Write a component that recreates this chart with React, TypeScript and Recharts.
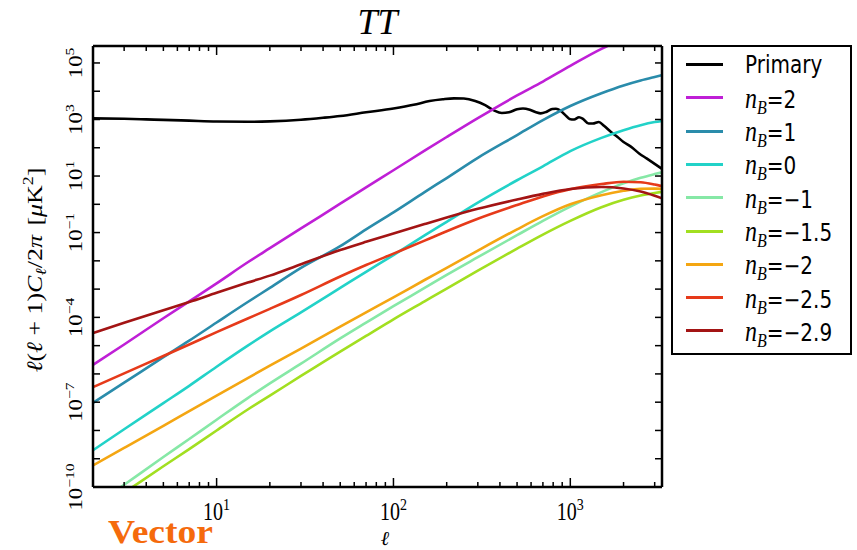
import React from 'react';
import { LineChart, Line, XAxis, YAxis, Legend } from 'recharts';

// multipole values shared by the magnetic-field curves
const ell = [2, 3, 5, 7, 10, 15, 20, 30, 50, 70, 100, 150, 200, 300, 500, 700, 1000, 1500, 2000, 2500, 3000, 3300];

const nB2 = [2.1e-6, 1.1e-5, 9.3e-5, 3.7e-4, 1.6e-3, 8.9e-3, 2.8e-2, 0.14, 1.05, 4.0, 16, 79, 240, 1120, 7100, 22000, 79000, 316000, 710000, 1.1e6, 1.6e6, 1.9e6];
const nB1 = [9.5e-8, 4.9e-7, 3.9e-6, 1.5e-5, 6.6e-5, 3.5e-4, 1.1e-3, 5.6e-3, 3.3e-2, 0.13, 0.52, 2.7, 8.5, 44, 280, 950, 3000, 8500, 16000, 24000, 32000, 37000];
const nB0 = [2.0e-9, 1.1e-8, 9.3e-8, 3.8e-7, 1.8e-6, 1.0e-5, 3.2e-5, 1.5e-4, 1.1e-3, 4.1e-3, 1.6e-2, 7.9e-2, 0.24, 1.15, 7.1, 22, 76, 224, 420, 630, 810, 890];
const nBm1 = [2.0e-11, 1.2e-10, 1.15e-9, 5.0e-9, 2.4e-8, 1.4e-7, 4.6e-7, 2.3e-6, 1.8e-5, 6.5e-5, 2.5e-4, 1.1e-3, 3.2e-3, 1.35e-2, 8.1e-2, 0.26, 0.83, 2.7, 5.5, 8.7, 11.7, 13.5];
const nBm15 = [1.15e-11, 6.3e-11, 5.4e-10, 2.2e-9, 1.0e-8, 5.5e-8, 1.7e-7, 8.5e-7, 6.2e-6, 2.2e-5, 8.5e-5, 3.7e-4, 1.05e-3, 4.5e-3, 2.7e-2, 8.5e-2, 0.26, 0.79, 1.45, 2.04, 2.5, 2.75];
const nBm2 = [5.8e-10, 2.4e-9, 1.45e-8, 4.8e-8, 1.7e-7, 7.1e-7, 1.95e-6, 7.9e-6, 4.7e-5, 1.5e-4, 5.1e-4, 2.1e-3, 5.6e-3, 2.3e-2, 0.13, 0.38, 1.0, 2.1, 3.0, 3.55, 3.6, 3.5];
const nBm25 = [3.4e-7, 1.05e-6, 4.3e-6, 1.1e-5, 3.0e-5, 9.1e-5, 2.0e-4, 6.2e-4, 2.8e-3, 7.1e-3, 1.8e-2, 5.2e-2, 0.112, 0.31, 0.95, 1.9, 3.4, 5.2, 6.3, 6.0, 5.0, 4.4];
const nBm29 = [2.8e-5, 6.5e-5, 1.8e-4, 3.5e-4, 7.4e-4, 1.7e-3, 3.0e-3, 7.6e-3, 2.4e-2, 4.7e-2, 9.3e-2, 0.20, 0.34, 0.69, 1.48, 2.34, 3.47, 4.07, 3.63, 2.82, 2.0, 1.62];

// primary CMB TT spectrum
const primaryEll = [2, 3, 4, 5, 7, 10, 15, 20, 30, 40, 50, 70, 100, 130, 160, 190, 220, 250, 290, 330, 370, 410, 450, 500, 540, 590, 640, 680, 730, 790, 830, 880, 940, 990, 1050, 1120, 1180, 1270, 1340, 1450, 1550, 1700, 1850, 2000, 2200, 2450, 2700, 3000, 3300];
const primaryVal = [1100, 1060, 1010, 970, 910, 850, 830, 860, 980, 1150, 1330, 1800, 2450, 3300, 4500, 5200, 5600, 5500, 4500, 3200, 2100, 1700, 1800, 2300, 2450, 2200, 1800, 1650, 1850, 2350, 2400, 2050, 1400, 1050, 1000, 1200, 1050, 720, 720, 820, 600, 360, 240, 160, 110, 63, 42, 27, 18];

const seriesNames = ['Primary', '2', '1', '0', '−1', '−1.5', '−2', '−2.5', '−2.9'];
const seriesColors = ['#000000', '#bf1fd6', '#2a8cab', '#22d2c8', '#86e8a6', '#a2df20', '#f4a612', '#e63a1a', '#a31414'];

const xTicks = [2, 3, 4, 5, 6, 7, 8, 9, 10, 20, 30, 40, 50, 60, 70, 80, 90, 100, 200, 300, 400, 500, 600, 700, 800, 900, 1000, 2000, 3000];
const xMajor = [10, 100, 1000];
const xMajorExp = ['1', '2', '3'];
const yTicks = [1e-10, 1e-9, 1e-8, 1e-7, 1e-6, 1e-5, 1e-4, 1e-3, 1e-2, 1e-1, 1, 10, 100, 1000, 1e4, 1e5];
const yLabelExps = [5, 3, 1, -1, -4, -7, -10];

const SERIF = '"Liberation Serif", "DejaVu Serif", serif';
const SANS = '"DejaVu Sans", "Liberation Sans", sans-serif';

const zip = (xs: number[], vs: number[]) => xs.map((l, i) => ({ l, v: vs[i] }));

const magnetic = [nB2, nB1, nB0, nBm1, nBm15, nBm2, nBm25, nBm29];
const seriesData = [zip(primaryEll, primaryVal), ...magnetic.map((vs) => zip(ell, vs))];

const fmtExp = (e: number) => (e < 0 ? '−' + String(-e) : String(e));

function BottomTick(props: any) {
  const { x, y, payload } = props;
  const idx = xMajor.indexOf(payload.value);
  const major = idx >= 0;
  return (
    <g>
      <line x1={x} x2={x} y1={y} y2={y - (major ? 9 : 5)} stroke="#000" strokeWidth={1.5} />
      {major && (
        <g transform={`translate(${x},${y + 33}) scale(1,1.25)`}>
          <text x={0} y={0} textAnchor="middle" fontFamily={SERIF} fontSize={20} fill="#000">
            10<tspan dy={-8} fontSize={14}>{xMajorExp[idx]}</tspan>
          </text>
        </g>
      )}
    </g>
  );
}

function TopTick(props: any) {
  const { x, y, payload } = props;
  const major = xMajor.indexOf(payload.value) >= 0;
  return <line x1={x} x2={x} y1={y} y2={y + (major ? 9 : 5)} stroke="#000" strokeWidth={1.5} />;
}

function LeftTick(props: any) {
  const { x, y, payload } = props;
  const e = Math.round(Math.log10(payload.value));
  const show = yLabelExps.indexOf(e) >= 0;
  return (
    <g>
      <line x1={x} x2={x + 7} y1={y} y2={y} stroke="#000" strokeWidth={1.5} />
      {show && (
        <g transform={`translate(${x - 11},${y}) rotate(-90) scale(1.2,1)`}>
          <text x={0} y={0} textAnchor="middle" fontFamily={SERIF} fontSize={19} fill="#000">
            10<tspan dy={-8} fontSize={13}>{fmtExp(e)}</tspan>
          </text>
        </g>
      )}
    </g>
  );
}

function RightTick(props: any) {
  const { x, y } = props;
  return <line x1={x} x2={x - 7} y1={y} y2={y} stroke="#000" strokeWidth={1.5} />;
}

function LegendLabel({ name }: { name: string }) {
  if (name === 'Primary') {
    return <span style={{ fontFamily: SANS, fontSize: 20 }}>Primary</span>;
  }
  return (
    <span>
      <span style={{ fontFamily: SERIF, fontStyle: 'italic', fontSize: 24 }}>n</span>
      <span style={{ fontFamily: SERIF, fontStyle: 'italic', fontSize: 16, position: 'relative', top: 5 }}>B</span>
      <span style={{ fontFamily: SANS, fontSize: 20 }}>={name}</span>
    </span>
  );
}

const renderLegend = () => (
  <div
    style={{
      width: 181,
      height: 310,
      boxSizing: 'border-box',
      border: '2.5px solid #000',
      background: '#fff',
      position: 'relative',
    }}
  >
    {seriesNames.map((name, i) => (
      <div key={name} style={{ position: 'absolute', left: 0, top: 17.5 + i * 33.3 - 15, height: 30, width: 176 }}>
        <div style={{ position: 'absolute', left: 13, top: 13.5, width: 37, height: 3, background: seriesColors[i] }} />
        <div
          style={{
            position: 'absolute',
            left: 72,
            top: 0,
            height: 30,
            lineHeight: '30px',
            whiteSpace: 'nowrap',
            color: '#000',
            transform: 'scaleY(1.2)',
            transformOrigin: 'left center',
          }}
        >
          <LegendLabel name={name} />
        </div>
      </div>
    ))}
  </div>
);

export default function App() {
  return (
    <div style={{ position: 'absolute', left: 0, top: 0, width: 857, height: 550, background: '#fff' }}>
      <LineChart width={857} height={550} margin={{ top: 41, right: 190, bottom: 23, left: 33 }}>
        <XAxis
          dataKey="l"
          type="number"
          scale="log"
          domain={[2, 3300]}
          allowDataOverflow
          ticks={xTicks}
          interval={0}
          height={40}
          tickSize={0}
          tickMargin={0}
          tickLine={false}
          tick={<BottomTick />}
          axisLine={{ stroke: '#000', strokeWidth: 2.5 }}
        />
        <XAxis
          xAxisId="top"
          orientation="top"
          dataKey="l"
          type="number"
          scale="log"
          domain={[2, 3300]}
          allowDataOverflow
          ticks={xTicks}
          interval={0}
          height={5}
          tickSize={0}
          tickMargin={0}
          tickLine={false}
          tick={<TopTick />}
          axisLine={{ stroke: '#000', strokeWidth: 2.5 }}
        />
        <YAxis
          type="number"
          scale="log"
          domain={[1e-10, 3.98e5]}
          allowDataOverflow
          ticks={yTicks}
          interval={0}
          width={60}
          tickSize={0}
          tickMargin={0}
          tickLine={false}
          tick={<LeftTick />}
          axisLine={{ stroke: '#000', strokeWidth: 2.5 }}
        />
        <YAxis
          yAxisId="right"
          orientation="right"
          type="number"
          scale="log"
          domain={[1e-10, 3.98e5]}
          allowDataOverflow
          ticks={yTicks}
          interval={0}
          width={5}
          tickSize={0}
          tickMargin={0}
          tickLine={false}
          tick={<RightTick />}
          axisLine={{ stroke: '#000', strokeWidth: 2.5 }}
        />
        {seriesData.map((d, i) => (
          <Line
            key={seriesNames[i]}
            data={d}
            dataKey="v"
            name={seriesNames[i]}
            type="monotone"
            stroke={seriesColors[i]}
            strokeWidth={2.6}
            dot={false}
            activeDot={false}
            isAnimationActive={false}
          />
        ))}
        <Line
          xAxisId="top"
          yAxisId="right"
          data={seriesData[0]}
          dataKey="v"
          name="mirror"
          stroke="none"
          dot={false}
          activeDot={false}
          legendType="none"
          isAnimationActive={false}
        />
        <Legend
          layout="vertical"
          align="center"
          verticalAlign="middle"
          content={renderLegend}
          wrapperStyle={{ left: 671, top: 45, width: 181, height: 310 }}
        />
      </LineChart>
      <svg
        width={857}
        height={550}
        style={{ position: 'absolute', left: 0, top: 0, pointerEvents: 'none' }}
      >
        <text x={377.5} y={34} textAnchor="middle" fontFamily={SERIF} fontStyle="italic" fontSize={36} fill="#000">
          TT
        </text>
        <g transform="translate(42,270) rotate(-90) scale(1.18,1)">
          <text x={0} y={0} textAnchor="middle" fontFamily={SERIF} fontSize={22} fill="#000">
            <tspan fontStyle="italic">ℓ</tspan>(<tspan fontStyle="italic">ℓ</tspan> + 1)<tspan fontStyle="italic">C</tspan>
            <tspan fontStyle="italic" fontSize={15} dy={4}>ℓ</tspan>
            <tspan dy={-4}>/2</tspan><tspan fontStyle="italic">π</tspan>
            <tspan dx={8}>[</tspan><tspan fontStyle="italic">μ</tspan>K<tspan fontSize={15} dy={-9}>2</tspan><tspan dy={9}>]</tspan>
          </text>
        </g>
        <text x={385} y={545} textAnchor="middle" fontFamily={SERIF} fontStyle="italic" fontSize={20} fill="#000">
          ℓ
        </text>
        <text x={108} y={543} fontFamily={SERIF} fontWeight="bold" fontSize={34} textLength={105} lengthAdjust="spacingAndGlyphs" fill="#f56a0c">
          Vector
        </text>
      </svg>
    </div>
  );
}
